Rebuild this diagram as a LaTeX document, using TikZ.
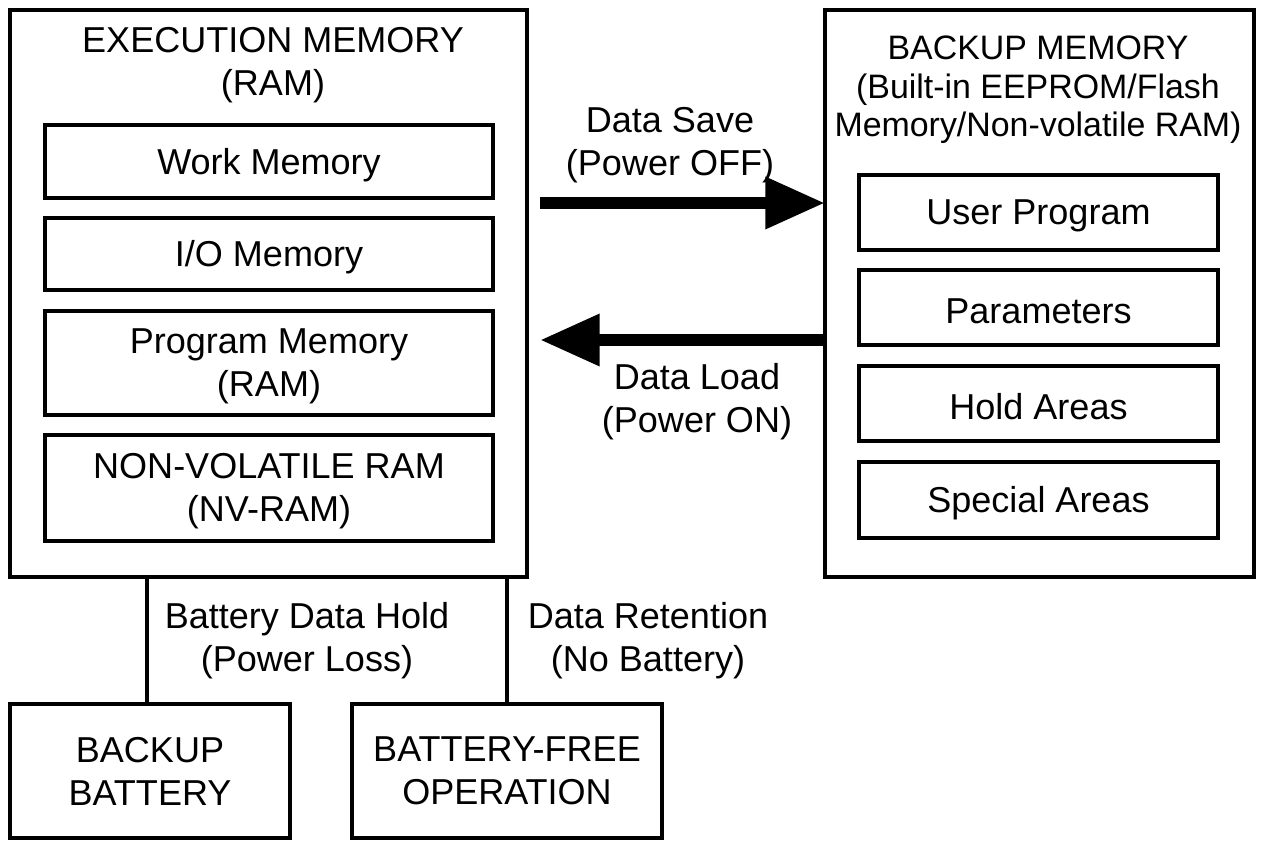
\documentclass[tikz,border=0pt]{standalone}
\usepackage{fontspec}
\setmainfont{Liberation Sans}
\usetikzlibrary{arrows.meta}
\begin{document}
\begin{tikzpicture}[x=0.02cm,y=-0.02cm,
  box/.style={draw,line width=2.3pt},
  txt/.style={font=\fontsize{20.5}{24.5}\selectfont,align=center,inner sep=0pt},
  big/.style={line width=7pt,-{Triangle[length=34pt,width=28pt]}}]
\useasboundingbox (0,0) rectangle (1264,848);
\draw[box] (10,10) rectangle (527,577);
\coordinate (execB1) at (147,577); \coordinate (execB2) at (507,577);
\node[txt] (exect) at (273,65) {EXECUTION MEMORY\\(RAM)};
\draw[box] (45,125) rectangle (493,198) node[midway,yshift=-2pt,txt] (wm) {Work Memory};
\draw[box] (45,218) rectangle (493,290) node[midway,yshift=-2pt,txt] (io) {I/O Memory};
\draw[box] (45,311) rectangle (493,415) node[midway,yshift=-2pt,txt] (pm) {Program Memory\\(RAM)};
\draw[box] (45,435) rectangle (493,541) node[midway,yshift=-2pt,txt] (nv) {NON-VOLATILE RAM\\(NV-RAM)};
\draw[box] (825,10) rectangle (1254,577);
\node[txt,font=\fontsize{19.3}{22}\selectfont] (bkt) at (1038,90) {BACKUP MEMORY\\(Built-in EEPROM/Flash\\Memory/Non-volatile RAM)};
\draw[box] (859,175) rectangle (1218,250) node[midway,yshift=-2pt,txt] (up) {User Program};
\draw[box] (859,270) rectangle (1218,345) node[midway,yshift=-2pt,txt] (par) {Parameters};
\draw[box] (859,366) rectangle (1218,441) node[midway,yshift=-2pt,txt] (hold) {Hold Areas};
\draw[box] (859,462) rectangle (1218,538) node[midway,yshift=-2pt,txt] (spec) {Special Areas};
\draw[box] (10,704) rectangle (290,838) node[midway,txt] (bat) {BACKUP\\BATTERY};
\draw[box] (352,704) rectangle (662,838) node[midway,txt] (bf) {BATTERY-FREE\\OPERATION};
\coordinate (bat1) at (147,704); \coordinate (bf1) at (507,704);
\draw[line width=2.3pt] (execB1) -- (bat1);
\draw[line width=2.3pt] (execB2) -- (bf1);
\coordinate (s1) at (540,203); \coordinate (s2) at (825,203);
\coordinate (l1) at (825,340); \coordinate (l2) at (540,340);
\draw[big] (s1) -- (s2);
\draw[big] (l1) -- (l2);
\node[txt] (ds) at (670,145) {Data Save\\(Power OFF)};
\node[txt] (dl) at (697,402) {Data Load\\(Power ON)};
\node[txt] (bdh) at (307,641) {Battery Data Hold\\(Power Loss)};
\node[txt] (dr) at (648,641) {Data Retention\\(No Battery)};
\end{tikzpicture}
\end{document}
